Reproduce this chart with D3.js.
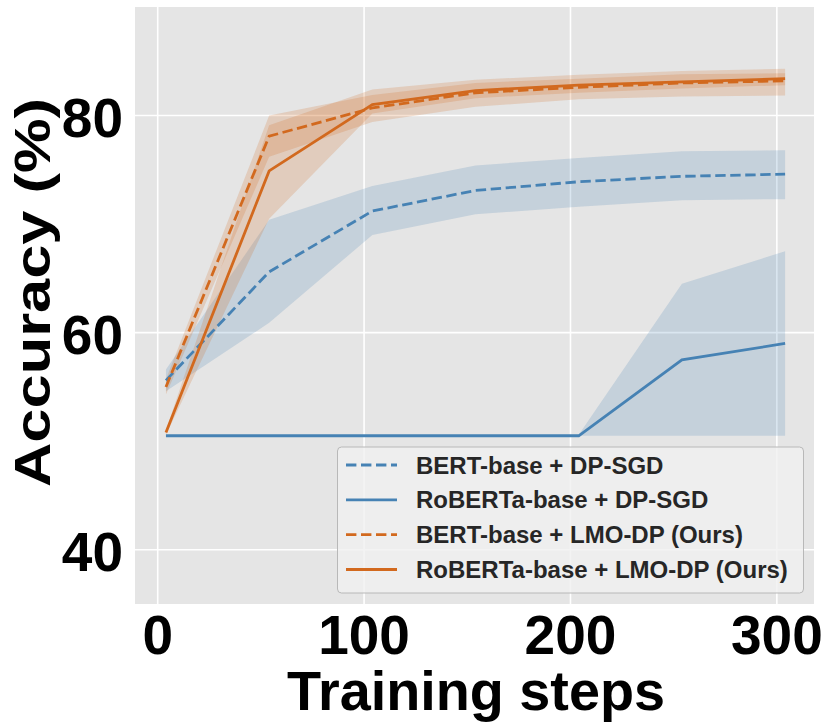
<!DOCTYPE html>
<html><head><meta charset="utf-8">
<script src="https://cdn.jsdelivr.net/npm/d3@7"></script>
<style>body{margin:0;background:#fff}svg{display:block}</style>
</head><body>
<svg id="c" width="830" height="728"></svg>
<script>
const steps = [4, 54, 104, 154, 204, 254, 304];
const bertDPMean = [55.6, 65.6, 71.2, 73.1, 73.9, 74.4, 74.6];
const bertDPLo   = [54.6, 60.9, 69.0, 70.9, 71.6, 72.2, 72.3];
const bertDPHi   = [56.6, 70.4, 73.5, 75.4, 76.1, 76.7, 76.8];
const robDPMean  = [50.5, 50.5, 50.5, 50.5, 50.5, 57.5, 59.0];
const robDPLo    = [50.5, 50.5, 50.5, 50.5, 50.5, 50.5, 50.5];
const robDPHi    = [50.5, 50.5, 50.5, 50.5, 50.6, 64.5, 67.5];
const bertLMOMean = [55.0, 78.1, 80.7, 82.1, 82.6, 83.0, 83.2];
const bertLMOLo   = [54.3, 76.2, 79.4, 80.8, 81.5, 81.75, 81.85];
const bertLMOHi   = [55.7, 80.0, 81.9, 83.0, 83.4, 83.8, 83.9];
const robLMOMean  = [50.8, 74.9, 81.0, 82.3, 82.8, 83.1, 83.4];
const robLMOLo    = [50.6, 70.5, 80.2, 81.6, 82.1, 82.5, 82.8];
const robLMOHi    = [51.0, 79.1, 82.4, 83.3, 83.75, 84.1, 84.3];
const seriesNames = ["BERT-base + DP-SGD", "RoBERTa-base + DP-SGD", "BERT-base + LMO-DP (Ours)", "RoBERTa-base + LMO-DP (Ours)"];
const xTicks = [0, 100, 200, 300];
const yTicks = [40, 60, 80];
const xLabel = "Training steps";
const yLabel = "Accuracy (%)";

const BLUE = "#4682b4", ORANGE = "#d2691e";
const series = [
  {name: seriesNames[0], mean: bertDPMean, lo: bertDPLo, hi: bertDPHi, color: BLUE, dash: true},
  {name: seriesNames[1], mean: robDPMean, lo: robDPLo, hi: robDPHi, color: BLUE, dash: false},
  {name: seriesNames[2], mean: bertLMOMean, lo: bertLMOLo, hi: bertLMOHi, color: ORANGE, dash: true},
  {name: seriesNames[3], mean: robLMOMean, lo: robLMOLo, hi: robLMOHi, color: ORANGE, dash: false}
];

const L = 135, R = 814, T = 7, B = 604;
const x = d3.scaleLinear().domain([-11, 318]).range([L, R]);
const y = d3.scaleLinear().domain([35, 90]).range([B, T]);
const svg = d3.select("#c");
const FONT = "'Liberation Sans', Arial, Helvetica, sans-serif";

svg.append("rect").attr("x", L).attr("y", T).attr("width", R - L).attr("height", B - T).attr("fill", "#e5e5e5");

const grid = svg.append("g");
grid.selectAll(".gx").data(xTicks).join("line")
  .attr("x1", d => x(d)).attr("x2", d => x(d)).attr("y1", T).attr("y2", B)
  .attr("stroke", "#fff").attr("stroke-width", 1.6);
grid.selectAll(".gy").data(yTicks).join("line")
  .attr("x1", L).attr("x2", R).attr("y1", d => y(d)).attr("y2", d => y(d))
  .attr("stroke", "#fff").attr("stroke-width", 1.6);

const area = d3.area().x(d => x(d.s)).y0(d => y(d.lo)).y1(d => y(d.hi));
const line = d3.line().x(d => x(d.s)).y(d => y(d.v));

series.forEach(sr => {
  const pts = steps.map((s, i) => ({s, lo: sr.lo[i], hi: sr.hi[i]}));
  svg.append("path").attr("d", area(pts)).attr("fill", sr.color).attr("fill-opacity", 0.2);
});
series.forEach(sr => {
  const pts = steps.map((s, i) => ({s, v: sr.mean[i]}));
  svg.append("path").attr("d", line(pts)).attr("fill", "none")
    .attr("stroke", sr.color).attr("stroke-width", 2.8)
    .attr("stroke-dasharray", sr.dash ? "10.4,4.6" : null);
});

// tick labels
svg.selectAll(".xt").data(xTicks).join("text")
  .attr("x", d => x(d)).attr("y", 654).attr("text-anchor", "middle")
  .attr("font-family", FONT).attr("font-weight", "bold").attr("font-size", 55).attr("fill", "#000")
  .text(d => d);
svg.selectAll(".yt").data(yTicks).join("text")
  .attr("x", 123).attr("y", d => y(d) + 21).attr("text-anchor", "end")
  .attr("font-family", FONT).attr("font-weight", "bold").attr("font-size", 55).attr("fill", "#000")
  .text(d => d);

// axis labels
svg.append("text").attr("x", 476).attr("y", 710).attr("text-anchor", "middle")
  .attr("font-family", FONT).attr("font-weight", "bold").attr("font-size", 56).attr("fill", "#000")
  .attr("textLength", 378).attr("lengthAdjust", "spacingAndGlyphs")
  .text(xLabel);
svg.append("text").attr("transform", "translate(50,292.5) rotate(-90)").attr("text-anchor", "middle")
  .attr("font-family", FONT).attr("font-weight", "bold").attr("font-size", 50).attr("fill", "#000")
  .attr("textLength", 389).attr("lengthAdjust", "spacingAndGlyphs")
  .text(yLabel);

// legend
const lg = svg.append("g");
lg.append("rect").attr("x", 337.5).attr("y", 447).attr("width", 466).attr("height", 146).attr("rx", 4)
  .attr("fill", "#f0f0f0").attr("fill-opacity", 0.8).attr("stroke", "#b8b8b8").attr("stroke-width", 1);
const rowY = d3.scaleLinear().domain([0, 3]).range([465, 569.5]);
series.forEach((sr, i) => {
  lg.append("line").attr("x1", 346).attr("x2", 397).attr("y1", rowY(i)).attr("y2", rowY(i))
    .attr("stroke", sr.color).attr("stroke-width", 2.8)
    .attr("stroke-dasharray", sr.dash ? "10.4,4.6" : null);
  lg.append("text").attr("x", 416).attr("y", rowY(i) + 8.5)
    .attr("font-family", FONT).attr("font-weight", "bold").attr("font-size", 24).attr("fill", "#262626")
    .text(sr.name);
});
</script>
</body></html>
